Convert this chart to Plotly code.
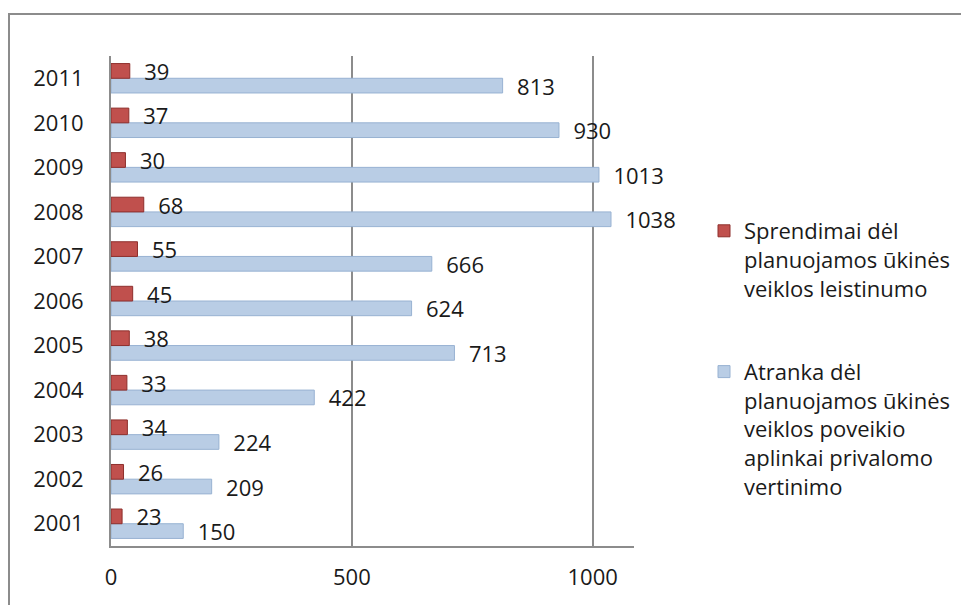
import plotly.graph_objects as go

years = ["2001", "2002", "2003", "2004", "2005", "2006", "2007", "2008", "2009", "2010", "2011"]
sprendimai = [23, 26, 34, 33, 38, 45, 55, 68, 30, 37, 39]
atranka = [150, 209, 224, 422, 713, 624, 666, 1038, 1013, 930, 813]
name_red = "Sprendimai dėl<br>planuojamos ūkinės<br>veiklos leistinumo"
name_blue = "Atranka dėl<br>planuojamos ūkinės<br>veiklos poveikio<br>aplinkai privalomo<br>vertinimo"
tick_vals = [0, 500, 1000]

FONT = "'Open Sans', sans-serif"
OFF = 8  # page body margin
W, H = 969 - 2 * OFF, 613 - 2 * OFF
# screen-pixel targets of the plot area
SX0, SX1, SY0, SY1 = 111, 634, 56, 546
L = SX0 - OFF
R = W - (SX1 - OFF)
T = SY0 - OFF
B = H - (SY1 - OFF)

px_per_unit = (611 - 111) / 1038.0
xmax = (SX1 - SX0) / px_per_unit

def sx(px):
    return (px - SX0) / (SX1 - SX0)

def sy(py):
    return (SY1 - py) / (SY1 - SY0)

fig = go.Figure()
fig.add_trace(go.Bar(
    y=years, x=atranka, orientation="h", name=name_blue,
    marker=dict(color="#B9CDE5", line=dict(color="#98B2D2", width=1)),
    text=["  " + str(v) for v in atranka], textposition="outside",
    constraintext="none",
    textfont=dict(family=FONT, size=22, color="#1a1a1a"), cliponaxis=False,
    legendgroup="b", legendrank=2,
))
fig.add_trace(go.Bar(
    y=years, x=sprendimai, orientation="h", name=name_red,
    marker=dict(color="#C0504D", line=dict(color="#8E2F2C", width=1)),
    text=["  " + str(v) for v in sprendimai], textposition="outside",
    constraintext="none",
    textfont=dict(family=FONT, size=22, color="#1a1a1a"), cliponaxis=False,
    legendgroup="a", legendrank=1,
))

fig.update_layout(
    width=W, height=H,
    margin=dict(l=L, r=R, t=T, b=B, autoexpand=False),
    paper_bgcolor="white", plot_bgcolor="white",
    barmode="group", bargap=0.34, bargroupgap=0,
    font=dict(family=FONT, size=22, color="#1a1a1a"),
    legend=dict(
        x=sx(704), y=sy(210), xanchor="left", yanchor="top",
        font=dict(family=FONT, size=22, color="#1a1a1a"),
        valign="top", tracegroupgap=52, itemwidth=30,
        bgcolor="rgba(0,0,0,0)",
    ),
    showlegend=True,
    xaxis=dict(
        range=[0, xmax], tickvals=tick_vals, ticktext=[str(v) for v in tick_vals],
        showgrid=True, gridcolor="#8C8C8C", gridwidth=2,
        zeroline=False, showline=True, linecolor="#8C8C8C", linewidth=2,
        ticks="", ticklabelstandoff=11,
        tickfont=dict(family=FONT, size=22, color="#1a1a1a"),
    ),
    yaxis=dict(
        type="category", categoryorder="array", categoryarray=years,
        range=[-0.5, 10.5], showgrid=False, zeroline=False,
        showline=True, linecolor="#8C8C8C", linewidth=2,
        ticks="", ticklabelstandoff=21,
        tickfont=dict(family=FONT, size=22, color="#1a1a1a"),
    ),
    shapes=[
        dict(type="rect", xref="paper", yref="paper",
             x0=sx(9), x1=sx(1000), y0=sy(640), y1=sy(14),
             line=dict(color="#8C8C8C", width=2), fillcolor="rgba(0,0,0,0)", layer="below"),
    ],
)

fig.write_html("out.html")
